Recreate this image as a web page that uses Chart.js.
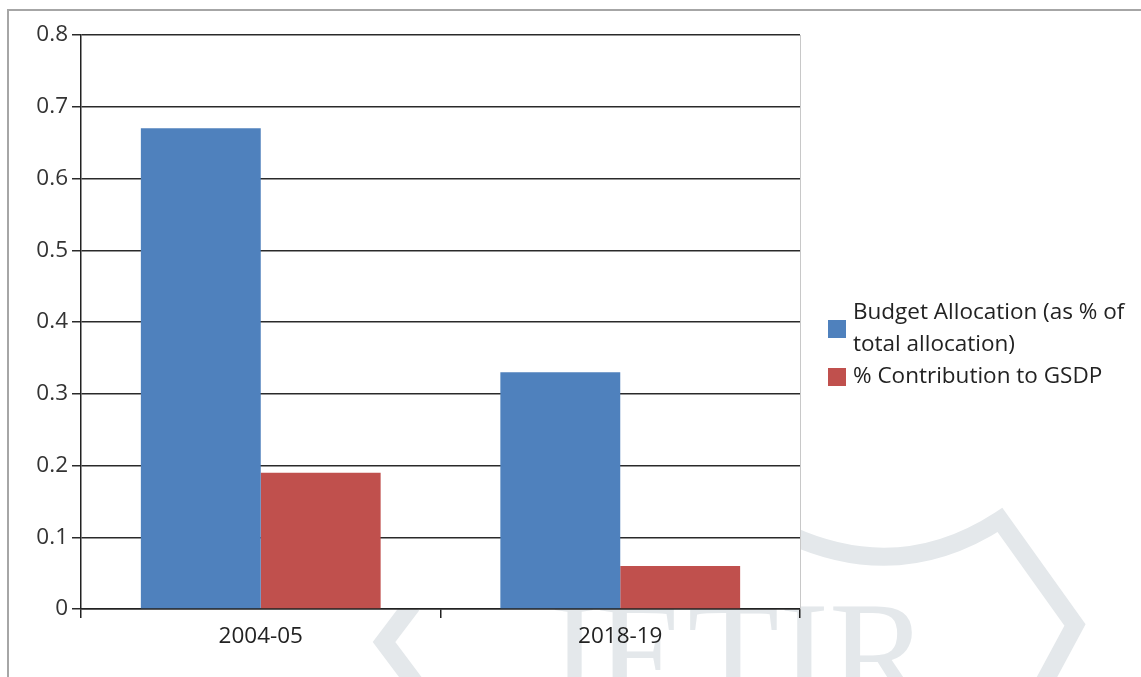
<!DOCTYPE html>
<html>
<head>
<meta charset="utf-8">
<script src="https://cdn.jsdelivr.net/npm/chart.js@4"></script>
<style>
  body { margin: 0; background: #fff; }
  #wrap { width: 1141px; height: 677px; }
</style>
</head>
<body>
<div id="wrap"><canvas id="budgetChart" width="1141" height="677"></canvas></div>
<script>
const YEARS = ['2004-05', '2018-19'];
const BUDGET_SHARE = [0.67, 0.33];
const GSDP_SHARE = [0.19, 0.06];
const SERIES_LABELS = ['Budget Allocation (as % of total allocation)', '% Contribution to GSDP'];
const SERIES_COLORS = ['#4f81bd', '#c0504d'];

const FONT = '"Open Sans", "Noto Sans", sans-serif';

// faint watermark + outer frame + white plot background
const backdrop = {
    id: 'backdrop',
    beforeDraw(chart) {
        const { ctx, chartArea: a } = chart;
        ctx.save();
        ctx.fillStyle = '#fff';
        ctx.fillRect(0, 0, chart.width, chart.height);

        // watermark
        ctx.strokeStyle = '#e4e8eb';
        ctx.fillStyle = '#e4e8eb';
        ctx.lineWidth = 18;
        ctx.beginPath();
        ctx.moveTo(790, 535);
        ctx.quadraticCurveTo(900, 585, 1000, 520);
        ctx.lineTo(1075, 625);
        ctx.lineTo(1040, 690);
        ctx.stroke();
        ctx.beginPath();
        ctx.moveTo(412, 605);
        ctx.lineTo(384, 642);
        ctx.lineTo(420, 690);
        ctx.stroke();
        ctx.font = '150px "Liberation Serif", serif';
        ctx.textBaseline = 'alphabetic';
        ctx.fillText('.JETIR', 500, 705);

        // plot background
        ctx.fillStyle = '#fff';
        ctx.fillRect(a.left, a.top, a.right - a.left, a.bottom - a.top);

        // outer frame
        ctx.strokeStyle = '#a6a6a6';
        ctx.lineWidth = 2;
        ctx.beginPath();
        ctx.moveTo(8, chart.height);
        ctx.lineTo(8, 10);
        ctx.lineTo(chart.width, 10);
        ctx.stroke();
        ctx.restore();
    },
    afterDraw(chart) {
        const { ctx, chartArea: a } = chart;
        ctx.save();
        ctx.strokeStyle = '#c8c8c8';
        ctx.lineWidth = 1;
        ctx.beginPath();
        ctx.moveTo(a.right + 0.5, a.top);
        ctx.lineTo(a.right + 0.5, a.bottom);
        ctx.stroke();
        ctx.restore();
    }
};

// Excel-like legend on the right, with wrapped text
const sideLegend = {
    id: 'sideLegend',
    afterDraw(chart) {
        const { ctx } = chart;
        const x0 = 828, textX = 853, maxW = 285, lineH = 32;
        let y = 313;
        ctx.save();
        ctx.font = '22.5px ' + FONT;
        ctx.textBaseline = 'middle';
        chart.data.datasets.forEach(ds => {
            const words = ds.label.split(' ');
            const lines = [];
            let cur = '';
            words.forEach(w => {
                const test = cur ? cur + ' ' + w : w;
                if (ctx.measureText(test).width > maxW && cur) {
                    lines.push(cur);
                    cur = w;
                } else cur = test;
            });
            lines.push(cur);
            const mid = y + (lines.length - 1) * lineH / 2;
            ctx.fillStyle = ds.backgroundColor;
            ctx.fillRect(x0, mid - 9, 18, 18);
            ctx.fillStyle = '#222';
            lines.forEach((l, i) => ctx.fillText(l, textX, y + i * lineH));
            y += lines.length * lineH;
        });
        ctx.restore();
    }
};

new Chart(document.getElementById('budgetChart'), {
    type: 'bar',
    data: {
        labels: YEARS,
        datasets: [
            { label: SERIES_LABELS[0], data: BUDGET_SHARE, backgroundColor: SERIES_COLORS[0] },
            { label: SERIES_LABELS[1], data: GSDP_SHARE, backgroundColor: SERIES_COLORS[1] }
        ]
    },
    options: {
        responsive: false,
        animation: false,
        layout: { padding: { top: 35, right: 341, left: 0, bottom: 0 } },
        datasets: { bar: { categoryPercentage: 0.667, barPercentage: 1 } },
        plugins: { legend: { display: false }, tooltip: { enabled: false } },
        scales: {
            x: {
                grid: { offset: true, drawOnChartArea: false, tickLength: 9, color: '#222', lineWidth: 1.5 },
                border: { color: '#222', width: 1.5 },
                ticks: { color: '#222', font: { family: FONT, size: 22.5 }, padding: 5 },
                afterFit(scale) { scale.height = 68; }
            },
            y: {
                min: 0,
                max: 0.8,
                ticks: {
                    stepSize: 0.1,
                    color: '#333',
                    font: { family: FONT, size: 22.5 },
                    padding: 4,
                    callback: v => v === 0 ? '0' : v.toFixed(1)
                },
                grid: { color: '#2a2a2a', lineWidth: 1.5, tickLength: 9 },
                border: { color: '#222', width: 1.5 },
                afterFit(scale) { scale.width = 81; }
            }
        }
    },
    plugins: [backdrop, sideLegend]
});
</script>
</body>
</html>
